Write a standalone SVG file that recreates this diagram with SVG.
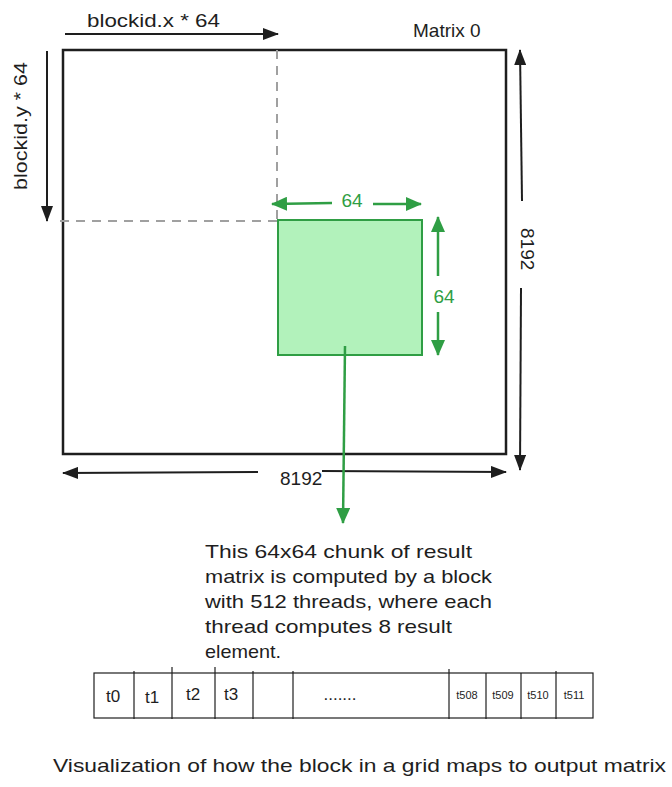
<svg xmlns="http://www.w3.org/2000/svg" width="672" height="787" viewBox="0 0 672 787">
<style>
text{font-family:"Liberation Sans","DejaVu Sans",sans-serif;fill:#1e1e1e}
.lbl{font-size:19px}
.g{fill:#2f9e44}
.blk{stroke:#1e1e1e;fill:none;stroke-width:2.5}
.arr{stroke:#1e1e1e;fill:none;stroke-width:2}
.garr{stroke:#2f9e44;fill:none;stroke-width:2.5}
.dash{stroke:#a0a0a0;stroke-width:2;stroke-dasharray:9 7;fill:none}
.cell{stroke:#1e1e1e;stroke-width:1.2;fill:none}
.t{font-size:17px}
.ts{font-size:11px}
</style>
<defs>
<marker id="ah" viewBox="0 0 16 12" markerWidth="16" markerHeight="12" refX="15" refY="6" orient="auto" markerUnits="userSpaceOnUse"><path d="M0,0 L16,6 L0,12 Z" fill="#1e1e1e"/></marker>
<marker id="gh" viewBox="0 0 16 14" markerWidth="16" markerHeight="14" refX="15" refY="7" orient="auto" markerUnits="userSpaceOnUse"><path d="M0,0 L16,7 L0,14 Z" fill="#2f9e44"/></marker>
</defs>
<rect width="672" height="787" fill="#ffffff"/>
<g id="matrix">
<rect x="63" y="50" width="443" height="404" class="blk"/>
<text x="413" y="37" class="lbl">Matrix 0</text>
</g>
<g id="guides">
<line x1="277" y1="50" x2="277" y2="220" class="dash"/>
<line x1="60" y1="221" x2="280" y2="221" class="dash"/>
</g>
<g id="block">
<rect x="278" y="220" width="144" height="135" fill="#b2f2bb" stroke="#2f9e44" stroke-width="2"/>
<text x="352" y="207" class="lbl g" text-anchor="middle">64</text>
<text x="444" y="303" class="lbl g" text-anchor="middle">64</text>
</g>
<g id="labels">
<text x="87" y="27" class="lbl" textLength="133" lengthAdjust="spacingAndGlyphs">blockid.x * 64</text>
<text transform="translate(27,190) rotate(-90)" class="lbl" textLength="128" lengthAdjust="spacingAndGlyphs">blockid.y * 64</text>
<text transform="translate(521,228) rotate(90)" class="lbl">8192</text>
<text x="280" y="485" class="lbl">8192</text>
</g>
<g id="note">
<text class="lbl" x="205" y="558" textLength="267" lengthAdjust="spacingAndGlyphs">This 64x64 chunk of result</text>
<text class="lbl" x="205" y="583" textLength="287" lengthAdjust="spacingAndGlyphs">matrix is computed by a block</text>
<text class="lbl" x="205" y="608" textLength="287" lengthAdjust="spacingAndGlyphs">with 512 threads, where each</text>
<text class="lbl" x="205" y="633" textLength="247" lengthAdjust="spacingAndGlyphs">thread computes 8 result</text>
<text class="lbl" x="205" y="658" textLength="76" lengthAdjust="spacingAndGlyphs">element.</text>
</g>
<g id="threads">
<rect x="94" y="673" width="499" height="45" class="cell"/>
<line x1="134" y1="671" x2="134" y2="719" class="cell"/>
<line x1="172" y1="667" x2="172" y2="719" class="cell"/>
<line x1="215" y1="667" x2="215" y2="719" class="cell"/>
<line x1="253" y1="671" x2="253" y2="719" class="cell"/>
<line x1="293" y1="671" x2="293" y2="719" class="cell"/>
<line x1="449" y1="669" x2="449" y2="719" class="cell"/>
<line x1="486" y1="673" x2="486" y2="719" class="cell"/>
<line x1="521" y1="673" x2="521" y2="719" class="cell"/>
<line x1="556" y1="671" x2="556" y2="719" class="cell"/>
<text x="113" y="702" class="t" text-anchor="middle">t0</text>
<text x="152" y="703" class="t" text-anchor="middle">t1</text>
<text x="193" y="700" class="t" text-anchor="middle">t2</text>
<text x="231" y="700" class="t" text-anchor="middle">t3</text>
<text x="340" y="700" class="t" text-anchor="middle">.......</text>
<text x="467" y="699" class="ts" text-anchor="middle">t508</text>
<text x="503" y="699" class="ts" text-anchor="middle">t509</text>
<text x="538" y="699" class="ts" text-anchor="middle">t510</text>
<text x="574" y="699" class="ts" text-anchor="middle">t511</text>
</g>
<g id="caption">
<text x="53" y="772" class="lbl" textLength="613" lengthAdjust="spacingAndGlyphs">Visualization of how the block in a grid maps to output matrix</text>
</g>
<g id="connectors">
<line x1="65" y1="34" x2="278" y2="34" class="arr" stroke-width="1.5" marker-end="url(#ah)"/>
<line x1="47" y1="51" x2="47" y2="221" class="arr" stroke-width="1.5" marker-end="url(#ah)"/>
<line x1="522" y1="201" x2="520" y2="50" class="arr" marker-end="url(#ah)"/>
<line x1="521" y1="288" x2="520" y2="470" class="arr" stroke-width="2.5" marker-end="url(#ah)"/>
<line x1="258" y1="472" x2="63" y2="473" class="arr" stroke-width="2.5" marker-end="url(#ah)"/>
<line x1="322" y1="471" x2="506" y2="472" class="arr" stroke-width="2.5" marker-end="url(#ah)"/>
<line x1="332" y1="203" x2="272" y2="204" class="garr" marker-end="url(#gh)"/>
<line x1="373" y1="204" x2="421" y2="204" class="garr" marker-end="url(#gh)"/>
<line x1="438" y1="276" x2="438" y2="217" class="garr" marker-end="url(#gh)"/>
<line x1="438" y1="312" x2="438" y2="355" class="garr" marker-end="url(#gh)"/>
<line x1="345" y1="346" x2="343" y2="523" class="garr" stroke-width="1.8" marker-end="url(#gh)"/>
</g>
</svg>
